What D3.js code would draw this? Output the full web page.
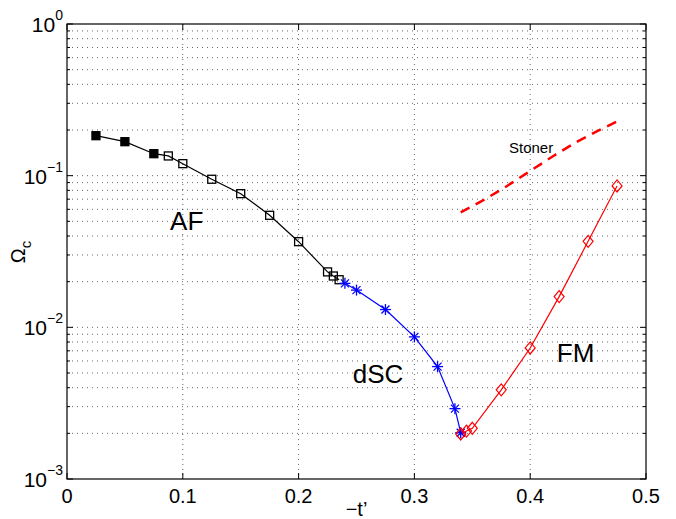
<!DOCTYPE html>
<html>
<head>
<meta charset="utf-8">
<script src="https://cdn.jsdelivr.net/npm/d3@7"></script>
<style>
body{margin:0;background:#fff;}
svg text{font-family:"Liberation Sans",Arial,sans-serif;fill:#000;}
</style>
</head>
<body>
<script>
// AF (black squares; first three filled)
var afX = [0.025,0.05,0.075,0.0875,0.1,0.125,0.15,0.175,0.2,0.225,0.23,0.235];
var afY = [0.1835,0.1675,0.1396,0.1349,0.120,0.0947,0.0761,0.0548,0.0367,0.0232,0.0218,0.0206];
var afFilled = [1,1,1,0,0,0,0,0,0,0,0,0];
// dSC (blue stars)
var scX = [0.24,0.25,0.275,0.3,0.32,0.335,0.34];
var scY = [0.0195,0.0176,0.0131,0.00865,0.00551,0.00291,0.00202];
// FM (red diamonds)
var fmX = [0.34,0.345,0.35,0.375,0.4,0.425,0.45,0.475];
var fmY = [0.00198,0.00207,0.00216,0.00387,0.00731,0.01594,0.0369,0.0855];
// Stoner (red dashed)
var stX = [0.34,0.36,0.38,0.40,0.42,0.44,0.46,0.475];
var stY = [0.0572,0.0692,0.0855,0.1074,0.1349,0.1668,0.2001,0.2277];

var xTicks = [0,0.1,0.2,0.3,0.4,0.5];
var xTickLabels = ['0','0.1','0.2','0.3','0.4','0.5'];
var yDecades = [-3,-2,-1,0];

var W = 676, H = 519;
var margin = {left:67, top:24};
var pw = 646-67, ph = 479-24;

var svg = d3.select('body').append('svg').attr('width',W).attr('height',H);
var g = svg.append('g').attr('transform','translate('+margin.left+','+margin.top+')');

var xScale = d3.scaleLinear().domain([0,0.5]).range([0,pw]);
var yScale = d3.scaleLog().domain([1e-3,1]).range([ph,0]);

//Grid
var minorVals = [];
[-3,-2,-1].forEach(function(e){
	for (var k=1;k<=9;k++) minorVals.push(k*Math.pow(10,e));
});
g.append('g').selectAll('line').data(minorVals.slice(1)).enter().append('line')
	.attr('x1',0).attr('x2',pw)
	.attr('y1',function(d){return yScale(d);}).attr('y2',function(d){return yScale(d);})
	.attr('stroke','#000').attr('stroke-width',1).attr('stroke-dasharray','1,4').attr('opacity',0.6);
g.append('g').selectAll('line').data(xTicks.slice(1,-1)).enter().append('line')
	.attr('x1',function(d){return xScale(d);}).attr('x2',function(d){return xScale(d);})
	.attr('y1',0).attr('y2',ph)
	.attr('stroke','#000').attr('stroke-width',1).attr('stroke-dasharray','1,4').attr('opacity',0.6);

//Axes (inward ticks on all sides)
var ax = g.append('g');
ax.append('rect').attr('x',0).attr('y',0).attr('width',pw).attr('height',ph)
	.attr('fill','none').attr('stroke','#000').attr('stroke-width',1.2);
xTicks.forEach(function(d){
	ax.append('line').attr('x1',xScale(d)).attr('x2',xScale(d)).attr('y1',ph).attr('y2',ph-6).attr('stroke','#000');
	ax.append('line').attr('x1',xScale(d)).attr('x2',xScale(d)).attr('y1',0).attr('y2',6).attr('stroke','#000');
});
minorVals.concat([1]).forEach(function(d){
	var major = Math.abs(Math.log10(d)-Math.round(Math.log10(d)))<1e-9;
	var len = major ? 6 : 3;
	ax.append('line').attr('x1',0).attr('x2',len).attr('y1',yScale(d)).attr('y2',yScale(d)).attr('stroke','#000');
	ax.append('line').attr('x1',pw).attr('x2',pw-len).attr('y1',yScale(d)).attr('y2',yScale(d)).attr('stroke','#000');
});
ax.selectAll('text.xt').data(xTicks).enter().append('text').attr('class','xt')
	.attr('x',function(d){return xScale(d);}).attr('y',ph+24)
	.attr('text-anchor','middle').attr('font-size',20)
	.text(function(d,i){return xTickLabels[i];});
yDecades.forEach(function(e){
	var t = ax.append('text').attr('x',-4).attr('y',yScale(Math.pow(10,e))+8)
		.attr('text-anchor','end').attr('font-size',21);
	t.append('tspan').text('10');
	t.append('tspan').attr('dy',-12).attr('font-size',14).text(e===0 ? '0' : '\u2212'+(-e));
});
ax.append('text').attr('x',pw/2).attr('y',ph+37).attr('text-anchor','middle').attr('font-size',20).text('\u2212t\u2019');
var yl = ax.append('text').attr('transform','translate(-42,228) rotate(-90)')
	.attr('text-anchor','middle').attr('font-size',20);
yl.append('tspan').text('\u03A9');
yl.append('tspan').attr('dy',6).attr('font-size',15).text('c');

//Lines
var line = d3.line().x(function(d){return xScale(d[0]);}).y(function(d){return yScale(d[1]);});
var af = d3.zip(afX,afY), sc = d3.zip(scX,scY), fm = d3.zip(fmX,fmY), st = d3.zip(stX,stY);
g.append('path').attr('d',line(af)).attr('fill','none').attr('stroke','#000').attr('stroke-width',1.2);
g.append('path').attr('d',line(sc)).attr('fill','none').attr('stroke','#0000ff').attr('stroke-width',1.2);
g.append('path').attr('d',line(fm)).attr('fill','none').attr('stroke','#ff0000').attr('stroke-width',1.2);
g.append('path').attr('d',line(st)).attr('fill','none').attr('stroke','#ff0000').attr('stroke-width',2.5).attr('stroke-dasharray','10,7');

//Markers
g.selectAll('rect.af').data(af).enter().append('rect').attr('class','af')
	.attr('x',function(d){return xScale(d[0])-4;}).attr('y',function(d){return yScale(d[1])-4;})
	.attr('width',8).attr('height',8)
	.attr('fill',function(d,i){return afFilled[i] ? '#000' : 'none';})
	.attr('stroke','#000').attr('stroke-width',1.3);
var starG = g.selectAll('g.sc').data(sc).enter().append('g').attr('class','sc')
	.attr('transform',function(d){return 'translate('+xScale(d[0])+','+yScale(d[1])+')';});
[[0,-5.5,0,5.5],[-5.5,0,5.5,0],[-4,-4,4,4],[-4,4,4,-4]].forEach(function(s){
	starG.append('line').attr('x1',s[0]).attr('y1',s[1]).attr('x2',s[2]).attr('y2',s[3])
		.attr('stroke','#0000ff').attr('stroke-width',1.3);
});
g.selectAll('path.fm').data(fm).enter().append('path').attr('class','fm')
	.attr('d','M0,-6L5,0L0,6L-5,0Z')
	.attr('transform',function(d){return 'translate('+xScale(d[0])+','+yScale(d[1])+')';})
	.attr('fill','none').attr('stroke','#ff0000').attr('stroke-width',1.2);

//Region labels
g.append('text').attr('x',xScale(0.089)).attr('y',yScale(0.0439)).attr('font-size',26).text('AF');
g.append('text').attr('x',xScale(0.2467)).attr('y',yScale(0.0043)).attr('font-size',26).text('dSC');
g.append('text').attr('x',xScale(0.423)).attr('y',yScale(0.00591)).attr('font-size',26).text('FM');
g.append('text').attr('x',xScale(0.3817)).attr('y',yScale(0.1411)).attr('font-size',15).text('Stoner');
</script>
</body>
</html>
